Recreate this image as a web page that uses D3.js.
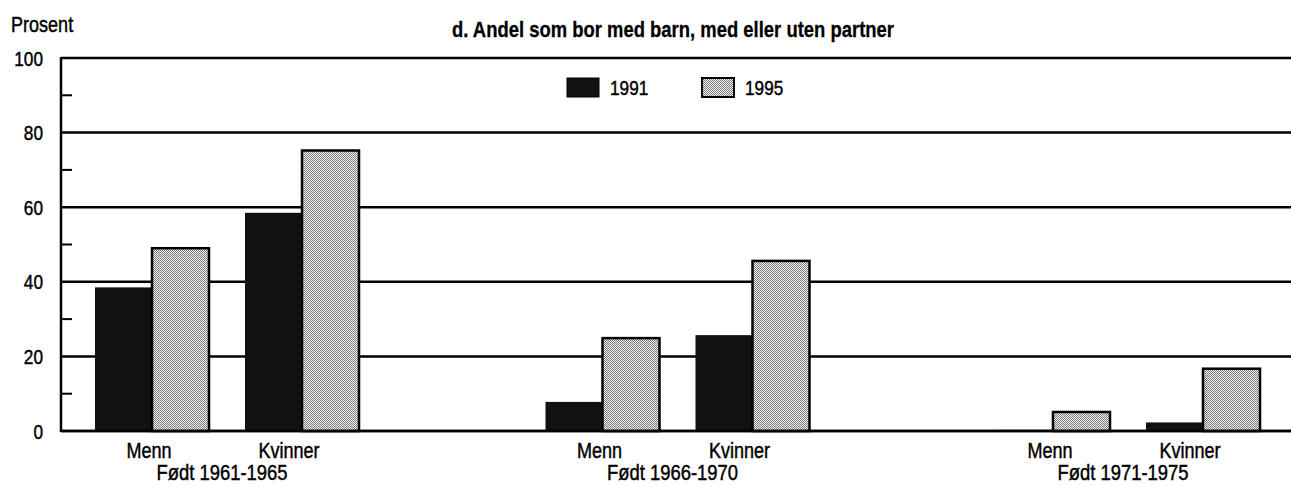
<!DOCTYPE html>
<html><head><meta charset="utf-8">
<script src="https://cdn.jsdelivr.net/npm/d3@7"></script>
<style>
html,body{margin:0;padding:0;background:#fff;}
svg{display:block;}
</style></head>
<body>
<svg id="chart" width="1291" height="487"></svg>
<script>
// ---- data ----
const cohorts = ["Født 1961-1965", "Født 1966-1970", "Født 1971-1975"];
const sexes = ["Menn", "Kvinner"];
const years = ["1991", "1995"];
const values1991 = [38.5, 58.5, 7.8, 25.7, 0.3, 2.3];   // Menn, Kvinner per cohort
const values1995 = [49.0, 75.2, 24.9, 45.6, 5.1, 16.7];
const yTicks = [0, 20, 40, 60, 80, 100];
const yMinorTicks = [10, 30, 50, 70, 90];
const titleText = "d. Andel som bor med barn, med eller uten partner";
const yLabel = "Prosent";

(function(){
// ---- font detection ----
const cv = document.createElement("canvas").getContext("2d");
function w(f){cv.font=f;return cv.measureText("Kvinner 1961-1965 abcdefgh").width;}
const hasNarrow = w("20px 'Liberation Sans Narrow', monospace") !== w("20px monospace");
const FAM = hasNarrow ? "'Liberation Sans Narrow', 'Arial Narrow', sans-serif" : "'Liberation Sans', Arial, sans-serif";
const SX = hasNarrow ? 1 : 0.82;

const svg = d3.select("#chart");
const defs = svg.append("defs");
const pat = defs.append("pattern").attr("id","stip").attr("patternUnits","userSpaceOnUse")
  .attr("width",2).attr("height",2);
pat.append("rect").attr("width",2).attr("height",2).attr("fill","#f2f2f2");
pat.append("rect").attr("x",0).attr("y",0).attr("width",1).attr("height",1).attr("fill","#7a7a7a");
pat.append("rect").attr("x",1).attr("y",1).attr("width",1).attr("height",1).attr("fill","#7a7a7a");

const fills = {"1991":"#111111","1995":"url(#stip)"};

function txt(parent, x, y, s, opts){
  opts = opts||{};
  const g = parent.append("g").attr("transform",`translate(${x},${y}) scale(${SX},1)`);
  return g.append("text").text(s)
    .attr("font-family",FAM).attr("font-size",opts.size||21)
    .attr("font-weight",opts.weight||"normal")
    .attr("text-anchor",opts.anchor||"start")
    .attr("fill","#000").attr("stroke","#000").attr("stroke-width",opts.sw==null?0.45:opts.sw);
}

// ---- scales ----
const pLeft = 61, pRight = 1291, pTop = 58, pBottom = 431;
const y = d3.scaleLinear().domain([0,100]).range([pBottom, pTop]);
const xGroup = d3.scalePoint().domain(cohorts).range([227, 1128]);
const xSex = d3.scaleBand().domain(sexes).range([-132, 132]).paddingInner(0.24).paddingOuter(0);
const xYear = d3.scaleBand().domain(years).range([0, xSex.bandwidth()]);

// ---- gridlines ----
svg.append("g").selectAll("line").data(yTicks).join("line")
  .attr("x1",pLeft).attr("x2",pRight)
  .attr("y1",d=>y(d)).attr("y2",d=>y(d))
  .attr("stroke","#000").attr("stroke-width",2.5);

// ---- bars ----
const rows = [];
cohorts.forEach((c,ci)=>sexes.forEach((s,si)=>{
  const idx = ci*2+si;
  rows.push({c,s,year:"1991",v:values1991[idx]});
  rows.push({c,s,year:"1995",v:values1995[idx]});
}));
svg.append("g").selectAll("rect").data(rows).join("rect")
  .attr("x",d=>xGroup(d.c)+xSex(d.s)+xYear(d.year))
  .attr("width",xYear.bandwidth())
  .attr("y",d=>y(d.v))
  .attr("height",d=>pBottom-y(d.v))
  .attr("fill",d=>fills[d.year])
  .attr("stroke",d=>d.year==="1995"?"#000":"none")
  .attr("stroke-width",2.5);

// baseline redraw
svg.append("line").attr("x1",pLeft).attr("x2",pRight).attr("y1",y(0)).attr("y2",y(0))
  .attr("stroke","#000").attr("stroke-width",2.5);

// ---- y axis ----
svg.append("line").attr("x1",pLeft).attr("x2",pLeft).attr("y1",y(100)-1).attr("y2",y(0)+1)
  .attr("stroke","#000").attr("stroke-width",2.5);
svg.append("g").selectAll("line").data(yMinorTicks).join("line")
  .attr("x1",pLeft).attr("x2",pLeft+11).attr("y1",d=>y(d)).attr("y2",d=>y(d))
  .attr("stroke","#000").attr("stroke-width",2);
yTicks.forEach(t=>txt(svg, 43, y(t)+7.5, String(t), {anchor:"end", size:21}));

// ---- titles ----
txt(svg, 11, 32, yLabel, {size:22});
txt(svg, 673, 37, titleText, {size:22.5, weight:"bold", anchor:"middle", sw:0.3});

// ---- x labels ----
const labelShift = {"Menn":-3, "Kvinner":-13};
cohorts.forEach(c=>{
  sexes.forEach(s=>{
    txt(svg, xGroup(c)+xSex(s)+xSex.bandwidth()/2+labelShift[s], 458, s, {anchor:"middle", size:22});
  });
  txt(svg, xGroup(c)-5, 480, c, {anchor:"middle", size:22.5});
});

// ---- legend ----
years.forEach((yr,i)=>{
  const lx = 567 + i*135;
  svg.append("rect").attr("x",lx).attr("y",78).attr("width",32).attr("height",19)
    .attr("fill",fills[yr]).attr("stroke","#000").attr("stroke-width",yr==="1995"?2:1);
  txt(svg, lx+43, 95, yr, {size:21});
});
})();
</script>
</body></html>
